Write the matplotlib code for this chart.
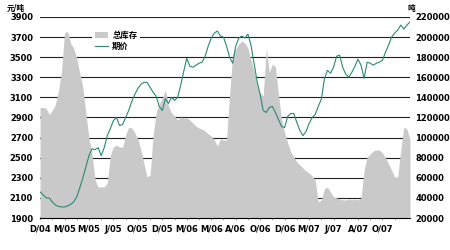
import numpy as np
import matplotlib
matplotlib.use("Agg")
from matplotlib import pyplot as plt
from matplotlib.patches import Patch
from matplotlib.lines import Line2D

plt.rcParams['font.family'] = ['DejaVu Sans', 'Noto Sans CJK SC']

# tick labels along the bottom (one every ~2.5 months)
date_labels = ['D/04', 'M/05', 'M/05', 'J/05', 'O/05', 'D/05', 'M/06', 'M/06',
               'A/06', 'O/06', 'D/06', 'M/07', 'J/07', 'A/07', 'O/07']

# futures price, yuan/ton (8 samples per label interval)
price = [2160, 2130, 2100, 2100, 2060, 2030, 2015, 2010, 2010, 2020,
         2035, 2060, 2110, 2200, 2300, 2410, 2520, 2590, 2580, 2600,
         2520, 2600, 2720, 2790, 2870, 2900, 2820, 2830, 2900, 2970,
         3060, 3130, 3190, 3230, 3250, 3250, 3200, 3150, 3110, 3010,
         2970, 3090, 3040, 3100, 3070, 3100, 3220, 3360, 3490, 3410,
         3400, 3420, 3440, 3450, 3510, 3610, 3690, 3740, 3760, 3710,
         3700, 3610, 3500, 3440, 3610, 3690, 3710, 3690, 3730, 3620,
         3440, 3260, 3130, 2970, 2950, 3000, 3010, 2950, 2880, 2810,
         2800, 2910, 2940, 2940, 2850, 2770, 2720, 2760, 2840, 2900,
         2930, 3010, 3080, 3280, 3370, 3340, 3400, 3510, 3520, 3400,
         3330, 3300, 3350, 3410, 3480, 3420, 3290, 3450, 3440, 3420,
         3440, 3450, 3470, 3550, 3620, 3700, 3740, 3770, 3820, 3780,
         3820, 3850]

# total stock, tons
stock = [130000, 130000, 129000, 123000, 127000, 133000, 146000, 165000, 204000, 206000,
         194000, 189000, 179000, 164000, 150000, 123500, 99600, 83700, 57800, 50900,
         51000, 51000, 55000, 82700, 90600, 92600, 90600, 90600, 102600, 110500,
         109600, 104600, 98600, 87700, 73700, 60800, 62800, 102600, 125500, 133400,
         139400, 147400, 131400, 124500, 121500, 117500, 120500, 119500, 119500, 117500,
         114500, 111500, 109500, 108500, 106600, 103600, 101600, 97600, 91600, 98600,
         97600, 97600, 142400, 182200, 188200, 193100, 196100, 194100, 189100, 177200,
         166300, 152300, 144400, 141400, 189000, 165000, 173200, 170200, 142400, 118500,
         104600, 94600, 85700, 80700, 75700, 72700, 69700, 66800, 64800, 61800,
         57800, 36000, 38000, 48900, 50900, 45900, 40900, 40000, 39000, 38000,
         38000, 39000, 38000, 39000, 38000, 40000, 67800, 80700, 83700, 86700,
         87700, 87700, 84700, 79700, 73700, 67800, 60800, 60800, 87700, 110500,
         108500, 97600]

x = np.arange(len(price)) / 8.0

fig = plt.figure(figsize=(4.5, 2.5), dpi=100)
ax2 = fig.add_axes([0.089, 0.128, 0.822, 0.804])
ax = ax2.twinx()

# stock area on the right axis, drawn under the price line
ax2.fill_between(x, 20000, stock, color='#c9c9c9', linewidth=0, zorder=2)
ax2.set_ylim(20000, 220000)
ax2.set_yticks(np.arange(20000, 220001, 20000))
for yv in np.arange(40000, 220001, 20000):
    ax2.axhline(yv, color='#222222', lw=0.8, zorder=1)
ax2.yaxis.tick_right()
ax2.tick_params(axis='y', length=0, labelsize=6, pad=4)
for lab in ax2.get_yticklabels():
    lab.set_fontweight('bold')

ax.plot(x, price, color='#2b8a70', lw=0.8, zorder=3)
ax.set_ylim(1900, 3900)
ax.set_yticks(np.arange(1900, 3901, 200))
ax.yaxis.tick_left()
ax.tick_params(axis='y', length=0, labelsize=6, pad=5)
for lab in ax.get_yticklabels():
    lab.set_fontweight('bold')

ax2.set_xlim(0, x[-1])
ax2.set_xticks(np.arange(len(date_labels)))
ax2.set_xticklabels(date_labels, fontsize=6, fontweight='bold')
ax2.set_xticks(np.arange(0, 15, 0.5), minor=True)
ax2.tick_params(axis='x', length=2, direction='inout', pad=4)
ax2.tick_params(axis='x', which='minor', length=2, direction='inout')

for a in (ax, ax2):
    for s in ('left', 'right', 'top'):
        a.spines[s].set_visible(False)
ax.spines['bottom'].set_visible(False)
ax2.spines['bottom'].set_linewidth(0.8)

ax.set_facecolor('none')

handles = [Patch(facecolor='#c9c9c9', edgecolor='none'),
           Line2D([0], [0], color='#2b8a70', lw=0.8)]
leg = ax.legend(handles, ['总库存', '期价'], loc='upper left',
                bbox_to_anchor=(0.13, 0.965), frameon=True, fontsize=6,
                handlelength=1.6, handletextpad=0.5, labelspacing=0.3,
                borderpad=0.3)
leg.get_frame().set_facecolor('white')
leg.get_frame().set_edgecolor('none')
leg.get_frame().set_alpha(1)
for t in leg.get_texts():
    t.set_fontweight('bold')

fig.text(0.015, 0.955, '元/吨', fontsize=5.5, fontweight='bold')
fig.text(0.905, 0.955, '吨', fontsize=5.5, fontweight='bold')

fig.savefig('out.png', dpi=100)
